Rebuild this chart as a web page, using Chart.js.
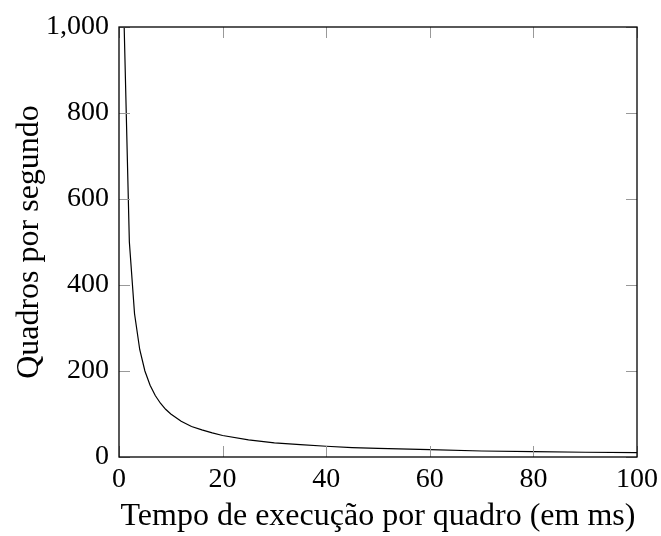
<!DOCTYPE html>
<html>
<head>
<meta charset="utf-8">
<script src="https://cdn.jsdelivr.net/npm/chart.js@4"></script>
<style>
  html, body { margin: 0; padding: 0; background: #fff; }
  #wrap { width: 661px; height: 536px; }
</style>
</head>
<body>
<div id="wrap"><canvas id="chart"></canvas></div>
<script>
const ctx = document.querySelector('#chart');

// tempo por quadro (ms) e quadros por segundo
const tempoMs = [1, 2, 3, 4, 5, 6, 7, 8, 9, 10, 12, 14, 16, 18, 20, 25, 30, 35, 40, 45, 50, 60, 70, 80, 90, 100];
const fps = [1000, 500, 333, 250, 200, 167, 143, 125, 111, 100, 83, 71, 63, 56, 50, 40, 33, 29, 25, 22, 20, 17, 14, 12.5, 11, 10];
const xTicks = [0, 20, 40, 60, 80, 100];
const yTicks = [0, 200, 400, 600, 800, 1000];

const fontFam = '"Liberation Serif", "DejaVu Serif", serif';

// moldura e marcas para dentro, como no pgfplots
const frameTicks = {
    id: 'frameTicks',
    afterDatasetsDraw(chart) {
        const c = chart.ctx;
        const a = chart.chartArea;
        const xs = chart.scales.x, ys = chart.scales.y;
        const len = 11;
        c.save();
        c.strokeStyle = '#999';
        c.lineWidth = 1;
        c.beginPath();
        xTicks.forEach(v => {
            const px = Math.round(xs.getPixelForValue(v)) + 0.5;
            c.moveTo(px, a.bottom); c.lineTo(px, a.bottom - len);
            c.moveTo(px, a.top); c.lineTo(px, a.top + len);
        });
        yTicks.forEach(v => {
            const py = Math.round(ys.getPixelForValue(v)) + 0.5;
            c.moveTo(a.left, py); c.lineTo(a.left + len, py);
            c.moveTo(a.right, py); c.lineTo(a.right - len, py);
        });
        c.stroke();
        c.strokeStyle = '#000';
        c.lineWidth = 1.3;
        c.strokeRect(a.left, a.top, a.right - a.left, a.bottom - a.top);
        c.restore();
    }
};

new Chart(ctx, {
    type: 'scatter',
    data: {
        datasets: [{
            data: tempoMs.map((t, i) => ({x: t, y: fps[i]})),
            showLine: true,
            borderColor: '#000',
            borderWidth: 1.2,
            pointRadius: 0,
            tension: 0
        }]
    },
    options: {
        responsive: true,
        maintainAspectRatio: false,
        animation: false,
        layout: { padding: { top: 27, right: 24, left: 0, bottom: 0 } },
        plugins: { legend: { display: false }, tooltip: { enabled: false } },
        scales: {
            x: {
                type: 'linear', min: 0, max: 100,
                afterBuildTicks: s => { s.ticks = xTicks.map(v => ({value: v})); },
                afterFit: s => { s.height = 79; s.paddingRight = 0; s.paddingLeft = 0; },
                grid: { display: false, drawTicks: false },
                border: { display: false },
                ticks: { color: '#000', padding: 6, maxRotation: 0, font: { family: fontFam, size: 28 } },
                title: { display: true, text: 'Tempo de execução por quadro (em ms)', color: '#000',
                         padding: { top: 6, bottom: 0 }, font: { family: fontFam, size: 32 } }
            },
            y: {
                type: 'linear', min: 0, max: 1000,
                afterBuildTicks: s => { s.ticks = yTicks.map(v => ({value: v})); },
                afterFit: s => { s.width = 119; s.paddingTop = 0; s.paddingBottom = 0; },
                grid: { display: false, drawTicks: false },
                border: { display: false },
                ticks: { color: '#000', padding: 10, font: { family: fontFam, size: 28 } },
                title: { display: true, text: 'Quadros por segundo', color: '#000',
                         padding: { top: 10, bottom: 0 }, font: { family: fontFam, size: 32 } }
            }
        }
    },
    plugins: [frameTicks]
});
</script>
</body>
</html>
